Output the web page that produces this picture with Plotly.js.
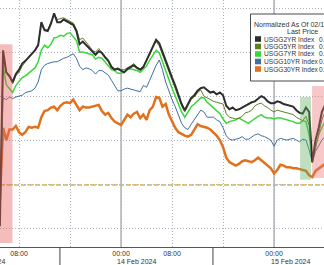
<!DOCTYPE html>
<html>
<head>
<meta charset="utf-8">
<script src="https://cdn.plot.ly/plotly-3.0.1.min.js"></script>
<style>
  html, body { margin: 0; padding: 0; background: #ffffff; }
  #chart { width: 324px; height: 265px; }
</style>
</head>
<body>
<div id="chart"></div>
<script>
// ---------------- data ----------------
const TIME_START = '2024-02-13T05:00:00Z';
const STEP_MINUTES = 30;

const seriesNames = ['USGG2YR Index', 'USGG5YR Index', 'USGG7YR Index', 'USGG10YR Index', 'USGG30YR Index'];
const seriesColors = ['#2e2e2e', '#5f7f25', '#38d838', '#3f6fa6', '#e2711d'];
const seriesWidths = [2, 1, 1.5, 1, 2.5];

// normalized yield change (bp) every 30 minutes
const usgg2yr = [-4.7, 15.3, 12.8, 12.4, 11.7, 12.6, 13.1, 13.8, 14.1, 14.5,
  14.9, 15.3, 15.9, 18.5, 17.6, 17.5, 18.3, 19.5, 18.5, 18.5,
  18.8, 18.6, 18.4, 18.2, 17.5, 16.0, 16.3, 15.9, 15.6, 15.1,
  14.8, 15.2, 15.0, 14.5, 14.1, 13.4, 13.1, 13.2, 13.0, 12.8,
  13.2, 13.4, 13.6, 13.3, 13.1, 13.4, 14.2, 14.9, 15.8, 16.5,
  16.1, 15.1, 14.0, 13.1, 12.2, 11.3, 10.2, 9.2, 8.5, 9.2,
  9.9, 10.2, 10.7, 11.0, 11.1, 10.8, 10.5, 10.6, 10.3, 10.5,
  10.2, 9.0, 8.6, 8.8, 8.5, 8.6, 8.8, 9.0, 9.2, 9.4,
  9.5, 9.8, 10.1, 9.9, 9.5, 9.3, 9.3, 9.5, 9.4, 9.2,
  9.1, 9.0, 8.9, 8.5, 8.2, 8.1, 8.8, 8.3, 2.6, 5.1,
  6.5, 8.3, 9.1];
const usgg5yr = [-4.0, 14.8, 12.7, 12.2, 11.5, 12.4, 12.8, 13.5, 14.0, 14.4,
  14.8, 15.3, 15.8, 18.2, 17.7, 17.6, 18.5, 19.4, 18.8, 18.9,
  19.0, 18.8, 18.6, 18.4, 17.7, 16.5, 16.7, 16.3, 15.8, 15.3,
  15.1, 15.5, 15.1, 14.7, 14.2, 13.5, 13.2, 13.3, 13.1, 13.1,
  13.3, 13.5, 13.8, 13.4, 13.2, 13.5, 14.2, 14.8, 15.7, 16.3,
  15.8, 14.8, 13.8, 12.8, 11.9, 11.0, 10.0, 9.0, 8.3, 9.0,
  9.7, 10.0, 10.5, 10.8, 10.1, 9.9, 9.7, 9.5, 9.4, 9.3,
  9.2, 8.1, 7.7, 7.6, 7.5, 7.6, 7.8, 8.2, 8.3, 8.5,
  9.0, 9.2, 9.3, 9.0, 8.8, 8.5, 8.3, 8.5, 8.4, 8.3,
  8.2, 8.1, 8.0, 7.7, 7.5, 7.3, 7.8, 6.8, 2.5, 4.2,
  5.9, 7.4, 8.3];
const usgg7yr = [-3.8, 13.6, 11.4, 11.0, 10.5, 11.3, 11.7, 12.2, 12.4, 12.7,
  13.0, 13.3, 14.0, 15.3, 15.9, 15.6, 16.0, 16.7, 16.8, 17.0,
  16.9, 17.2, 17.3, 16.9, 16.4, 15.1, 15.1, 15.0, 14.9, 14.8,
  14.3, 14.5, 14.4, 14.0, 13.6, 13.1, 13.0, 12.7, 12.7, 12.8,
  13.1, 13.2, 13.1, 13.0, 12.8, 13.1, 13.5, 14.2, 14.8, 15.3,
  15.0, 14.0, 12.8, 11.9, 11.0, 10.1, 9.2, 8.3, 7.7, 8.3,
  8.9, 9.2, 9.5, 9.9, 9.9, 9.4, 9.1, 8.8, 8.5, 8.1,
  7.5, 7.0, 7.2, 7.3, 7.4, 7.6, 7.4, 7.2, 7.0, 7.3,
  7.6, 7.8, 8.0, 7.7, 7.6, 7.6, 7.5, 7.6, 7.6, 7.5,
  7.4, 7.3, 7.2, 7.0, 7.0, 7.3, 7.2, 5.7, 3.1, 4.5,
  5.7, 6.5, 7.2];
const usgg10yr = [-3.5, 9.9, 9.7, 10.0, 9.8, 10.0, 10.1, 10.2, 10.5, 10.6,
  10.7, 11.0, 11.7, 13.1, 13.6, 13.8, 13.9, 14.0, 14.0, 14.2,
  14.4, 14.5, 14.7, 14.9, 14.4, 13.5, 13.1, 13.3, 13.2, 13.0,
  12.6, 13.0, 13.0, 12.7, 12.5, 11.9, 11.3, 10.7, 10.7, 10.9,
  11.0, 10.9, 10.8, 10.7, 10.6, 11.3, 11.1, 11.9, 12.8, 13.6,
  14.2, 13.1, 11.7, 10.6, 9.7, 8.9, 8.0, 7.0, 6.5, 6.3,
  6.9, 7.4, 8.0, 8.5, 8.3, 7.7, 7.7, 7.7, 7.4, 7.2,
  6.5, 5.6, 5.2, 5.1, 5.2, 5.3, 5.5, 5.2, 5.2, 5.5,
  5.7, 5.8, 5.6, 5.5, 5.3, 5.1, 4.4, 5.1, 5.3, 5.2,
  5.1, 5.2, 5.3, 5.1, 4.9, 5.2, 5.1, 4.0, 2.6, 3.8,
  4.5, 5.1, 5.5];
const usgg30yr = [-1.7, 6.5, 5.1, 6.3, 6.3, 6.7, 6.0, 5.7, 6.0, 6.6,
  6.5, 6.6, 6.5, 7.7, 8.4, 8.5, 8.8, 8.9, 8.5, 9.0,
  9.3, 9.4, 9.3, 9.7, 9.1, 8.5, 8.9, 8.8, 8.8, 8.9,
  9.0, 9.1, 8.4, 8.0, 8.2, 7.6, 7.2, 7.0, 6.8, 7.4,
  8.0, 7.7, 8.1, 8.3, 7.6, 8.0, 7.4, 8.5, 8.9, 10.0,
  9.9, 8.9, 9.2, 8.0, 7.2, 6.5, 6.0, 5.8, 5.6, 5.5,
  5.7, 6.3, 6.9, 6.7, 6.6, 6.5, 6.3, 6.0, 5.6, 5.1,
  4.3, 3.1, 2.6, 2.4, 2.2, 2.4, 2.7, 2.8, 2.7, 2.6,
  2.8, 3.1, 2.8, 2.5, 2.3, 1.9, 1.3, 1.7, 2.3, 2.2,
  2.0, 2.0, 1.9, 1.9, 1.8, 1.7, 1.6, 1.1, 0.9, 1.6,
  1.9, 2.2, 2.4];

const tickVals = ['2024-02-13 08:00', '2024-02-13 16:00', '2024-02-14 00:00', '2024-02-14 08:00',
                  '2024-02-14 16:00', '2024-02-15 00:00', '2024-02-15 08:00'];
const tickText = ['08:00', '', '00:00', '08:00', '', '00:00', '08:00'];
const midnights = ['2024-02-14 00:00', '2024-02-15 00:00'];
const dayLabels = ['14 Feb 2024', '15 Feb 2024'];
const dayLabelTimes = ['2024-02-14 02:30', '2024-02-15 02:30'];
const prevDayLabel = '13 Feb 2024';
const daySeparators = ['2024-02-13 14:25', '2024-02-14 14:25'];
const legendTitle = 'Normalized As Of 02/13/24';
const legendSubtitle = 'Last Price';
const legendValueText = '0.';

// ---------------- build ----------------
function fmt(d) { return d.toISOString().slice(0, 16).replace('T', ' '); }
const t0 = new Date(TIME_START).getTime();
const times = usgg2yr.map((_, i) => fmt(new Date(t0 + i * STEP_MINUTES * 60000)));

const allSeries = [usgg2yr, usgg5yr, usgg7yr, usgg10yr, usgg30yr];
const drawOrder = [4, 3, 2, 1, 0];
const traces = drawOrder.map(k => ({
  type: 'scatter', mode: 'lines', x: times, y: allSeries[k], name: seriesNames[k],
  line: { color: seriesColors[k], width: seriesWidths[k] }, showlegend: false, hoverinfo: 'skip'
}));

const FONT = 'Liberation Sans, Arial, sans-serif';
const LFS = 6.6;   // legend font size
const AFS = 7;     // axis font size
const W = 324, H = 265, B = 18, PH = H - B;
const px = v => v / W;             // paper x from pixel
const py = v => (PH - v) / PH;     // paper y from pixel

const shapes = [];
// highlight zones
shapes.push({ type: 'rect', xref: 'x', yref: 'y', x0: '2024-02-13 03:00', x1: '2024-02-13 06:58', y0: -6.6, y1: 16.0,
  fillcolor: 'rgba(232,96,96,0.42)', line: { width: 0 }, layer: 'above' });
shapes.push({ type: 'rect', xref: 'x', yref: 'y', x0: '2024-02-15 04:05', x1: '2024-02-15 05:48', y0: 0.6, y1: 10.0,
  fillcolor: 'rgba(96,176,96,0.40)', line: { width: 0 }, layer: 'above' });
shapes.push({ type: 'rect', xref: 'x', yref: 'y', x0: '2024-02-15 05:58', x1: '2024-02-15 10:00', y0: 0.8, y1: 11.25,
  fillcolor: 'rgba(236,110,110,0.38)', line: { width: 0 }, layer: 'above' });
// zero reference
shapes.push({ type: 'line', xref: 'paper', yref: 'y', x0: 0, x1: 1, y0: 0, y1: 0,
  line: { color: '#e3b43a', width: 1.5, dash: '5px,2px' }, layer: 'below' });
// midnight lines
midnights.forEach(m => shapes.push({ type: 'line', xref: 'x', yref: 'paper', x0: m, x1: m, y0: 0, y1: 1,
  line: { color: '#b0b0b0', width: 1.5 }, layer: 'below' }));
// day separators below axis
daySeparators.forEach(m => shapes.push({ type: 'line', xref: 'x', yref: 'paper', x0: m, x1: m, y0: 0, y1: -B / PH,
  line: { color: '#444', width: 1 }, layer: 'above' }));

// custom legend box
const LBX = 250.5, LBY0 = 14, LBY1 = 81;
shapes.push({ type: 'rect', xref: 'paper', yref: 'paper', x0: px(LBX), x1: px(340), y0: py(LBY1), y1: py(LBY0),
  fillcolor: '#ffffff', line: { color: '#4a4a4a', width: 1 }, layer: 'above' });

const annotations = [];
annotations.push({ xref: 'paper', yref: 'paper', x: px(252), y: py(24), xanchor: 'left', yanchor: 'middle',
  text: legendTitle, showarrow: false, font: { family: FONT, size: 7, color: '#333' } });
annotations.push({ xref: 'paper', yref: 'paper', x: px(302), y: py(31.5), xanchor: 'center', yanchor: 'middle',
  text: legendSubtitle, showarrow: false, font: { family: FONT, size: 7, color: '#333' } });
const entryY = [39, 46.5, 54, 61.5, 69];
seriesNames.forEach((n, k) => {
  const yc = entryY[k];
  shapes.push({ type: 'rect', xref: 'paper', yref: 'paper', x0: px(255), x1: px(261), y0: py(yc + 2.8), y1: py(yc - 2.8),
    fillcolor: seriesColors[k], line: { width: 0 }, layer: 'above' });
  annotations.push({ xref: 'paper', yref: 'paper', x: px(261.5), y: py(yc), xanchor: 'left', yanchor: 'middle',
    text: n, showarrow: false, font: { family: FONT, size: LFS, color: '#333' } });
  annotations.push({ xref: 'paper', yref: 'paper', x: px(317), y: py(yc), xanchor: 'left', yanchor: 'middle',
    text: legendValueText, showarrow: false, font: { family: FONT, size: LFS, color: '#333' } });
});
// day labels under the axis
dayLabels.forEach((d, k) => annotations.push({ xref: 'x', yref: 'paper', x: dayLabelTimes[k], y: py(261.2),
  xanchor: 'center', yanchor: 'middle', text: d, showarrow: false, font: { family: FONT, size: AFS, color: '#333' } }));
annotations.push({ xref: 'paper', yref: 'paper', x: px(7), y: py(261.2), xanchor: 'right', yanchor: 'middle',
  text: prevDayLabel, showarrow: false, font: { family: FONT, size: AFS, color: '#333' } });

const layout = {
  width: W, height: H,
  margin: { l: 0, r: 0, t: 0, b: B, pad: 0, autoexpand: false },
  paper_bgcolor: '#ffffff', plot_bgcolor: '#ffffff',
  showlegend: false,
  font: { family: FONT, size: AFS, color: '#333' },
  xaxis: {
    type: 'date', range: ['2024-02-13 05:01', '2024-02-15 07:50'],
    tickmode: 'array', tickvals: tickVals, ticktext: tickText,
    showgrid: true, gridcolor: '#a9b3c2', griddash: '1px,2px', gridwidth: 1,
    showline: true, linecolor: '#555', linewidth: 1, ticks: '', ticklen: 0,
    tickfont: { family: FONT, size: AFS, color: '#333' }, zeroline: false, fixedrange: true
  },
  yaxis: {
    range: [-7.05, 21.02], tick0: 0, dtick: 5, showticklabels: false,
    showgrid: true, gridcolor: '#a9b3c2', griddash: '1px,2px', gridwidth: 1,
    zeroline: false, showline: false, ticks: '', fixedrange: true
  },
  shapes: shapes,
  annotations: annotations
};

Plotly.newPlot('chart', traces, layout, { displayModeBar: false, staticPlot: true });
</script>
</body>
</html>
